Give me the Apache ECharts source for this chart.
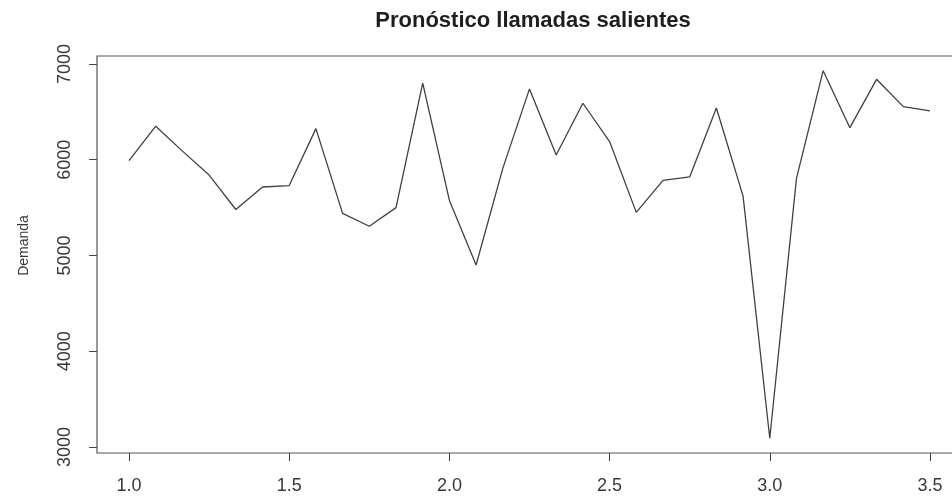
<!DOCTYPE html>
<html>
<head>
<meta charset="utf-8">
<script src="https://cdn.jsdelivr.net/npm/echarts@6/dist/echarts.min.js"></script>
<style>
  html, body { margin: 0; padding: 0; background: #fff; }
  #chart { width: 952px; height: 497px; }
</style>
</head>
<body>
<div id="chart"></div>
<script>
// Monthly series starting at period 1, frequency 12
const inicio = 1;
const frecuencia = 12;
const demanda = [
  5990, 6350, 6090, 5840, 5480, 5715, 5730, 6325, 5440, 5305,
  5500, 6800, 5575, 4900, 5910, 6740, 6050, 6590, 6190, 5450,
  5785, 5820, 6540, 5620, 3090, 5805, 6930, 6335, 6840, 6555,
  6510
];
const ticksX = [1.0, 1.5, 2.0, 2.5, 3.0, 3.5];
const ticksY = [3000, 4000, 5000, 6000, 7000];

const tiempo = demanda.map((_, i) => inicio + i / frecuencia);
const puntos = demanda.map((v, i) => [tiempo[i], v]);

// Axis ranges padded by 4% like a base R plot
const xMin = tiempo[0], xMax = tiempo[tiempo.length - 1];
const yMin = Math.min(...demanda), yMax = Math.max(...demanda);
const padX = (xMax - xMin) * 0.04, padY = (yMax - yMin) * 0.04;

const chart = echarts.init(document.getElementById('chart'), null, { renderer: 'canvas' });
const fontFam = '"Liberation Sans", Arial, sans-serif';

chart.setOption({
  animation: false,
  backgroundColor: '#ffffff',
  title: {
    text: 'Pronóstico llamadas salientes',
    left: 528,
    top: 5,
    textAlign: 'center',
    textStyle: { fontFamily: fontFam, fontSize: 22, fontWeight: 'bold', color: '#1e1e1e' }
  },
  grid: {
    left: 97, top: 56, width: 865, height: 397,
    outerBoundsMode: 'none',
    containLabel: false,
    show: true, borderColor: '#555', borderWidth: 1.2, backgroundColor: 'transparent'
  },
  xAxis: {
    type: 'value',
    min: xMin - padX,
    max: xMax + padX,
    axisLine: { show: false },
    splitLine: { show: false },
    axisTick: { show: true, inside: false, length: 8, customValues: ticksX, lineStyle: { color: '#444', width: 1 } },
    axisLabel: {
      customValues: ticksX, margin: 24,
      formatter: v => v.toFixed(1),
      fontFamily: fontFam, fontSize: 18, color: '#383838'
    }
  },
  yAxis: {
    type: 'value',
    min: yMin - padY,
    max: yMax + padY,
    name: 'Demanda',
    nameLocation: 'middle',
    nameRotate: 90,
    nameGap: 66,
    nameTextStyle: { fontFamily: fontFam, fontSize: 14, color: '#383838', padding: [0, 0, 0, 18] },
    axisLine: { show: false },
    splitLine: { show: false },
    axisTick: { show: true, inside: false, length: 8, customValues: ticksY, lineStyle: { color: '#444', width: 1 } },
    axisLabel: {
      customValues: ticksY, rotate: 90, margin: 23,
      formatter: v => String(v),
      fontFamily: fontFam, fontSize: 18, color: '#383838'
    }
  },
  series: [{
    type: 'line',
    data: puntos,
    showSymbol: false,
    lineStyle: { color: '#404040', width: 1.3 },
    clip: true
  }]
});
</script>
</body>
</html>
